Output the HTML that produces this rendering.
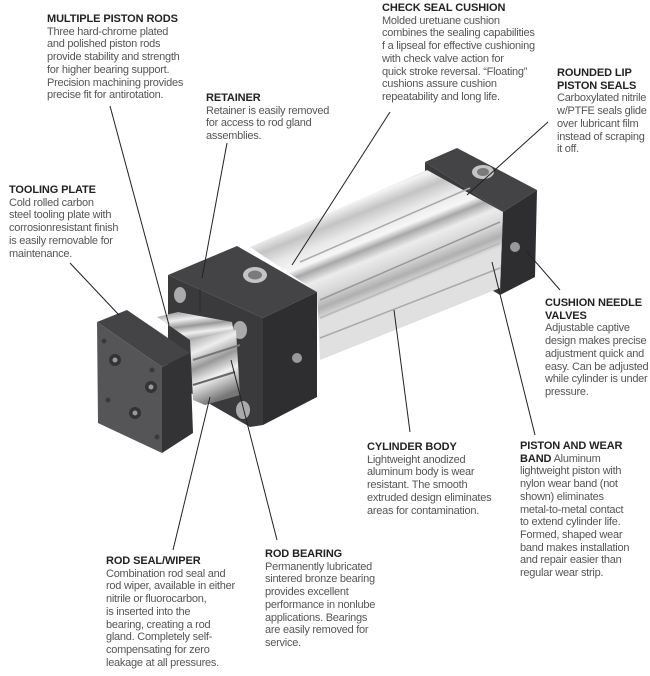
<!DOCTYPE html>
<html><head><meta charset="utf-8"><style>
body{margin:0;background:#fff;width:650px;height:676px;position:relative;overflow:hidden;font-family:"Liberation Sans",Arial,sans-serif}
.t{position:absolute;font-size:11px;line-height:12.7px;color:#555;letter-spacing:-0.25px}
.t b{color:#222;font-weight:bold;letter-spacing:-0.1px}
svg{position:absolute;left:0;top:0}
</style></head><body>
<svg width="650" height="676" viewBox="0 0 650 676">
<defs>
<linearGradient id="tube" gradientUnits="userSpaceOnUse" x1="330" y1="200" x2="370" y2="300">
<stop offset="0" stop-color="#b5b5b5"/><stop offset="0.1" stop-color="#f4f4f4"/><stop offset="0.22" stop-color="#c4c4c4"/><stop offset="0.35" stop-color="#e8e8e8"/><stop offset="0.48" stop-color="#f6f6f6"/><stop offset="0.55" stop-color="#a8a8a8"/><stop offset="0.65" stop-color="#ececec"/><stop offset="0.8" stop-color="#d4d4d4"/><stop offset="0.9" stop-color="#b0b0b0"/><stop offset="1" stop-color="#e0e0e0"/>
</linearGradient>
<linearGradient id="rod" x1="0" y1="0" x2="0.3" y2="1">
<stop offset="0" stop-color="#888"/><stop offset="0.3" stop-color="#eee"/><stop offset="0.5" stop-color="#999"/><stop offset="0.7" stop-color="#f0f0f0"/><stop offset="1" stop-color="#777"/>
</linearGradient>
</defs>
<!-- rear cap -->
<polygon points="425,162 457,148 537,190 503,212" fill="#444446"/>
<polygon points="503,212 537,190 535,277 500,295" fill="#2e2e30"/>
<polygon points="425,162 503,212 500,295 425,250" fill="#3a3a3c"/>
<ellipse cx="483" cy="172" rx="11" ry="7" fill="#c4c4c4"/><ellipse cx="483" cy="172" rx="6" ry="4" fill="#7a7a7a"/>
<circle cx="515" cy="247" r="5" fill="#999"/>
<!-- body -->
<polygon points="250,247 427,170 503,212 500,288 320,360 317,292" fill="url(#tube)"/>
<line x1="300" y1="262" x2="470" y2="188" stroke="#aaa" stroke-width="1.5"/>
<line x1="320" y1="300" x2="500" y2="222" stroke="#999" stroke-width="1.5"/>
<line x1="320" y1="318" x2="500" y2="243" stroke="#bbb" stroke-width="2"/>
<line x1="320" y1="338" x2="500" y2="268" stroke="#aaa" stroke-width="1.5"/>
<!-- front cap -->
<polygon points="168,275 237,246 317,292 263,318" fill="#444446"/>
<polygon points="168,275 263,318 263,425 250,427 168,380" fill="#3a3a3c"/>
<polygon points="263,318 317,292 317,397 263,425" fill="#2e2e30"/>
<line x1="200" y1="289" x2="200" y2="312" stroke="#2a2a2a" stroke-width="1"/>
<ellipse cx="255" cy="275" rx="12" ry="8" fill="#c4c4c4"/><ellipse cx="255" cy="275" rx="7" ry="4.5" fill="#7a7a7a"/>
<ellipse cx="180" cy="295" rx="6" ry="8" fill="#aaa"/>
<ellipse cx="240" cy="330" rx="7" ry="9" fill="#aaa"/>
<ellipse cx="243" cy="410" rx="7" ry="9" fill="#aaa"/>
<circle cx="297" cy="358" r="5" fill="#999"/>
<!-- rods -->
<polygon points="157,317 178,312 232,322 236,345 190,340" fill="url(#rod)"/>
<polygon points="190,340 236,330 240,395 205,405 193,400" fill="url(#rod)"/>
<line x1="193" y1="360" x2="240" y2="345" stroke="#777" stroke-width="2"/>
<line x1="193" y1="385" x2="235" y2="372" stroke="#666" stroke-width="2"/>
<!-- tooling plate -->
<polygon points="97,322 127,310 190,353 162,367" fill="#444446"/>
<polygon points="97,322 162,367 162,453 98,423" fill="#555557"/>
<polygon points="162,367 190,353 193,433 162,453" fill="#333335"/>
<circle cx="115" cy="360" r="6" fill="#333"/><circle cx="115" cy="360" r="2.5" fill="#999"/>
<circle cx="151" cy="387" r="6" fill="#333"/><circle cx="151" cy="387" r="2.5" fill="#999"/>
<circle cx="135" cy="413" r="6" fill="#333"/><circle cx="135" cy="413" r="2.5" fill="#999"/>
<circle cx="104" cy="341" r="2.5" fill="#3a3a3a"/><circle cx="152" cy="370" r="2.5" fill="#3a3a3a"/>
<circle cx="108" cy="400" r="2.5" fill="#3a3a3a"/><circle cx="157" cy="437" r="2.5" fill="#3a3a3a"/>
<!-- leaders -->
<g stroke="#222" stroke-width="1">
<line x1="110" y1="106" x2="169" y2="325"/>
<line x1="227" y1="143" x2="202" y2="278"/>
<line x1="390" y1="112" x2="292" y2="265"/>
<line x1="548" y1="122" x2="467" y2="195"/>
<line x1="70" y1="263" x2="119" y2="315"/>
<line x1="560" y1="290" x2="527" y2="252"/>
<line x1="394" y1="310" x2="410" y2="432"/>
<line x1="492" y1="262" x2="535" y2="435"/>
<line x1="173" y1="550" x2="210" y2="397"/>
<line x1="277" y1="540" x2="231" y2="360"/>
</g>
</svg>
<div class="t" style="left:47px;top:13px"><b>MULTIPLE PISTON RODS</b><br>Three hard-chrome plated<br>and polished piston rods<br>provide stability and strength<br>for higher bearing support.<br>Precision machining provides<br>precise fit for antirotation.</div>
<div class="t" style="left:206px;top:92px"><b>RETAINER</b><br>Retainer is easily removed<br>for access to rod gland<br>assemblies.</div>
<div class="t" style="left:382px;top:2px"><b>CHECK SEAL CUSHION</b><br>Molded uretuane cushion<br>combines the sealing capabilities<br>f a lipseal for effective cushioning<br>with check valve action for<br>quick stroke reversal. “Floating”<br>cushions assure cushion<br>repeatability and long life.</div>
<div class="t" style="left:557px;top:67px"><b>ROUNDED LIP<br>PISTON SEALS</b><br>Carboxylated nitrile<br>w/PTFE seals glide<br>over lubricant film<br>instead of scraping<br>it off.</div>
<div class="t" style="left:9px;top:184px"><b>TOOLING PLATE</b><br>Cold rolled carbon<br>steel tooling plate with<br>corrosionresistant finish<br>is easily removable for<br>maintenance.</div>
<div class="t" style="left:545px;top:297px"><b>CUSHION NEEDLE<br>VALVES</b><br>Adjustable captive<br>design makes precise<br>adjustment quick and<br>easy. Can be adjusted<br>while cylinder is under<br>pressure.</div>
<div class="t" style="left:367px;top:441px"><b>CYLINDER BODY</b><br>Lightweight anodized<br>aluminum body is wear<br>resistant. The smooth<br>extruded design eliminates<br>areas for contamination.</div>
<div class="t" style="left:520px;top:440px"><b>PISTON AND WEAR<br>BAND</b> Aluminum<br>lightweight piston with<br>nylon wear band (not<br>shown) eliminates<br>metal-to-metal contact<br>to extend cylinder life.<br>Formed, shaped wear<br>band makes installation<br>and repair easier than<br>regular wear strip.</div>
<div class="t" style="left:106px;top:555px"><b>ROD SEAL/WIPER</b><br>Combination rod seal and<br>rod wiper, available in either<br>nitrile or fluorocarbon,<br>is inserted into the<br>bearing, creating a rod<br>gland. Completely self-<br>compensating for zero<br>leakage at all pressures.</div>
<div class="t" style="left:265px;top:548px"><b>ROD BEARING</b><br>Permanently lubricated<br>sintered bronze bearing<br>provides excellent<br>performance in nonlube<br>applications. Bearings<br>are easily removed for<br>service.</div>
</body></html>
